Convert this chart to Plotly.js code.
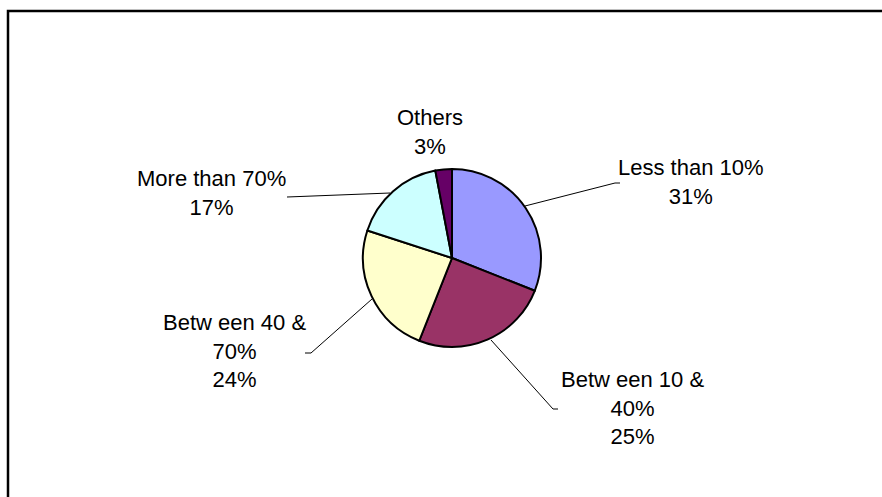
<!DOCTYPE html>
<html>
<head>
<meta charset="utf-8">
<script src="https://cdn.plot.ly/plotly-3.0.1.min.js"></script>
<style>
  html, body { margin: 0; padding: 0; background: #ffffff; }
  #chart { width: 882px; height: 497px; }
</style>
</head>
<body>
<div id="chart"></div>
<script>
// ---- data ----
var categories = ["Less than 10%", "Between 10 & 40%", "Between 40 & 70%", "More than 70%", "Others"];
var displayLabels = ["Less than 10%", "Betw een 10 &<br>40%", "Betw een 40 &<br>70%", "More than 70%", "Others"];
var values = [31, 25, 24, 17, 3];
var colors = ["#9999FF", "#993366", "#FFFFCC", "#CCFFFF", "#660066"];

// ---- layout helpers (pixel -> paper, margins are 0) ----
var W = 882, H = 497;
function px(x) { return x / W; }
function py(y) { return 1 - y / H; }

var total = values.reduce(function (a, b) { return a + b; }, 0);
function pct(v) { return Math.round(v / total * 100) + "%"; }

// label centres (pixels)
var labelPos = [[691, 182], [632, 408], [234, 351], [211, 193], [430, 132]];

var annotations = categories.map(function (c, i) {
  return {
    xref: "paper", yref: "paper",
    x: px(labelPos[i][0]), y: py(labelPos[i][1]),
    xanchor: "center", yanchor: "middle",
    text: displayLabels[i] + "<br>" + pct(values[i]),
    showarrow: false,
    font: { family: "Liberation Sans, Arial, sans-serif", size: 22, color: "#000000" },
    align: "center"
  };
});

function path(points) {
  return "M" + points.map(function (p) { return px(p[0]) + "," + py(p[1]); }).join(" L");
}
var leaderStyle = { color: "#000000", width: 1 };
var shapes = [
  // chart frame
  { type: "rect", xref: "paper", yref: "paper", x0: px(8), x1: 1.05, y0: -0.05, y1: py(11),
    line: { color: "#000000", width: 2.5 }, fillcolor: "rgba(0,0,0,0)" },
  // leader lines
  { type: "path", xref: "paper", yref: "paper", path: path([[525, 206], [615, 183], [620, 183]]), line: leaderStyle },
  { type: "path", xref: "paper", yref: "paper", path: path([[491, 340], [553, 409], [558, 409]]), line: leaderStyle },
  { type: "path", xref: "paper", yref: "paper", path: path([[372, 299], [311, 353], [305, 353]]), line: leaderStyle },
  { type: "path", xref: "paper", yref: "paper", path: path([[390, 193], [287, 197]]), line: leaderStyle }
];

var trace = {
  type: "pie",
  labels: categories,
  values: values,
  sort: false,
  direction: "clockwise",
  rotation: 0,
  textinfo: "none",
  hoverinfo: "label+percent",
  marker: { colors: colors, line: { color: "#000000", width: 2 } },
  domain: { x: [px(363), px(541)], y: [py(347), py(169)] },
  showlegend: false
};

var layout = {
  width: W, height: H,
  margin: { l: 0, r: 0, t: 0, b: 0 },
  paper_bgcolor: "#ffffff",
  plot_bgcolor: "#ffffff",
  showlegend: false,
  annotations: annotations,
  shapes: shapes
};

Plotly.newPlot("chart", [trace], layout, { displayModeBar: false, staticPlot: true });
</script>
</body>
</html>
